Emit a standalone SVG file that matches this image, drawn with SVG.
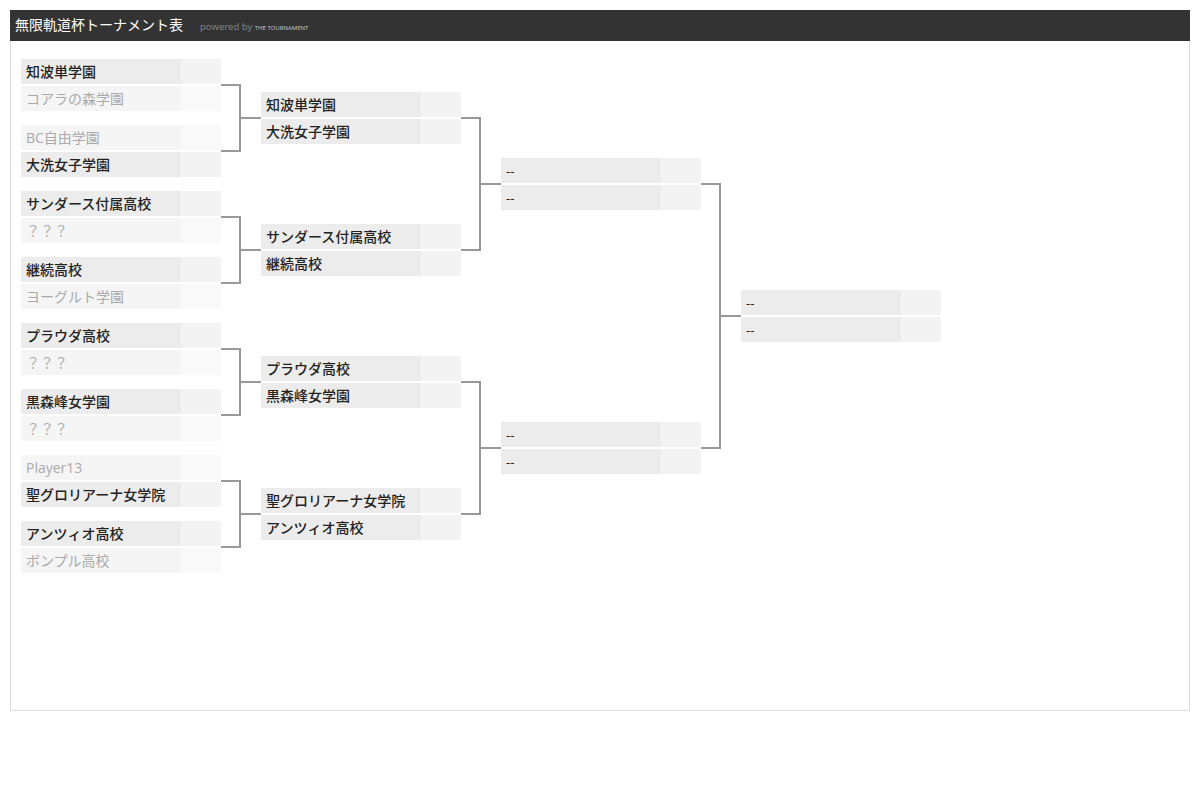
<svg xmlns="http://www.w3.org/2000/svg" width="1200" height="800" viewBox="0 0 1200 800">
<style>
text{font-family:"Open Sans","Noto Sans CJK JP","Noto Sans",sans-serif;}
.n{font-size:14px;fill:#222;font-weight:500;}
.l{font-size:14px;fill:#aaa;}
.d{font-size:13px;fill:#222;font-weight:500;}
.wn{fill:#ececec;}
.ws{fill:#f3f3f3;}
.ln{fill:#f5f5f5;}
.ls{fill:#f9f9f9;}
.c{fill:none;stroke:#999;stroke-width:2;}
</style>
<rect x="0" y="0" width="1200" height="800" fill="#fff"/>
<rect x="10.5" y="40.5" width="1179" height="670" fill="#fff" stroke="#ddd" stroke-width="1"/>
<g id="header">
<rect x="10" y="10" width="1180" height="31" fill="#333"/>
<text x="15" y="30" style="font-size:14px;fill:#fff">無限軌道杯トーナメント表</text>
<text x="200" y="30" style="font-size:9.5px;fill:#888">powered by <tspan style="font-size:6px;fill:#ccc">THE TOURNAMENT</tspan></text>
</g>
<g id="connectors">
<path class="c" d="M221 85H240V151H221M240 118H261"/>
<path class="c" d="M221 217H240V283H221M240 250H261"/>
<path class="c" d="M221 349H240V415H221M240 382H261"/>
<path class="c" d="M221 481H240V547H221M240 514H261"/>
<path class="c" d="M461 118H480V250H461M480 184H501"/>
<path class="c" d="M461 382H480V514H461M480 448H501"/>
<path class="c" d="M701 184H720V448H701M720 316H741"/>
</g>
<g id="r1m1">
<rect class="wn" x="21" y="59" width="160" height="25"/><rect class="ws" x="181" y="59" width="40" height="25"/>
<text class="n" x="26" y="77">知波単学園</text>
<rect class="ln" x="21" y="86" width="160" height="25"/><rect class="ls" x="181" y="86" width="40" height="25"/>
<text class="l" x="26" y="104">コアラの森学園</text>
</g>
<g id="r1m2">
<rect class="ln" x="21" y="125" width="160" height="25"/><rect class="ls" x="181" y="125" width="40" height="25"/>
<text class="l" x="26" y="143">BC自由学園</text>
<rect class="wn" x="21" y="152" width="160" height="25"/><rect class="ws" x="181" y="152" width="40" height="25"/>
<text class="n" x="26" y="170">大洗女子学園</text>
</g>
<g id="r1m3">
<rect class="wn" x="21" y="191" width="160" height="25"/><rect class="ws" x="181" y="191" width="40" height="25"/>
<text class="n" x="26" y="209">サンダース付属高校</text>
<rect class="ln" x="21" y="218" width="160" height="25"/><rect class="ls" x="181" y="218" width="40" height="25"/>
<text class="l" x="26" y="236">？？？</text>
</g>
<g id="r1m4">
<rect class="wn" x="21" y="257" width="160" height="25"/><rect class="ws" x="181" y="257" width="40" height="25"/>
<text class="n" x="26" y="275">継続高校</text>
<rect class="ln" x="21" y="284" width="160" height="25"/><rect class="ls" x="181" y="284" width="40" height="25"/>
<text class="l" x="26" y="302">ヨーグルト学園</text>
</g>
<g id="r1m5">
<rect class="wn" x="21" y="323" width="160" height="25"/><rect class="ws" x="181" y="323" width="40" height="25"/>
<text class="n" x="26" y="341">プラウダ高校</text>
<rect class="ln" x="21" y="350" width="160" height="25"/><rect class="ls" x="181" y="350" width="40" height="25"/>
<text class="l" x="26" y="368">？？？</text>
</g>
<g id="r1m6">
<rect class="wn" x="21" y="389" width="160" height="25"/><rect class="ws" x="181" y="389" width="40" height="25"/>
<text class="n" x="26" y="407">黒森峰女学園</text>
<rect class="ln" x="21" y="416" width="160" height="25"/><rect class="ls" x="181" y="416" width="40" height="25"/>
<text class="l" x="26" y="434">？？？</text>
</g>
<g id="r1m7">
<rect class="ln" x="21" y="455" width="160" height="25"/><rect class="ls" x="181" y="455" width="40" height="25"/>
<text class="l" x="26" y="473">Player13</text>
<rect class="wn" x="21" y="482" width="160" height="25"/><rect class="ws" x="181" y="482" width="40" height="25"/>
<text class="n" x="26" y="500">聖グロリアーナ女学院</text>
</g>
<g id="r1m8">
<rect class="wn" x="21" y="521" width="160" height="25"/><rect class="ws" x="181" y="521" width="40" height="25"/>
<text class="n" x="26" y="539">アンツィオ高校</text>
<rect class="ln" x="21" y="548" width="160" height="25"/><rect class="ls" x="181" y="548" width="40" height="25"/>
<text class="l" x="26" y="566">ボンプル高校</text>
</g>
<g id="r2m1">
<rect class="wn" x="261" y="92" width="160" height="25"/><rect class="ws" x="421" y="92" width="40" height="25"/>
<text class="n" x="266" y="110">知波単学園</text>
<rect class="wn" x="261" y="119" width="160" height="25"/><rect class="ws" x="421" y="119" width="40" height="25"/>
<text class="n" x="266" y="137">大洗女子学園</text>
</g>
<g id="r2m2">
<rect class="wn" x="261" y="224" width="160" height="25"/><rect class="ws" x="421" y="224" width="40" height="25"/>
<text class="n" x="266" y="242">サンダース付属高校</text>
<rect class="wn" x="261" y="251" width="160" height="25"/><rect class="ws" x="421" y="251" width="40" height="25"/>
<text class="n" x="266" y="269">継続高校</text>
</g>
<g id="r2m3">
<rect class="wn" x="261" y="356" width="160" height="25"/><rect class="ws" x="421" y="356" width="40" height="25"/>
<text class="n" x="266" y="374">プラウダ高校</text>
<rect class="wn" x="261" y="383" width="160" height="25"/><rect class="ws" x="421" y="383" width="40" height="25"/>
<text class="n" x="266" y="401">黒森峰女学園</text>
</g>
<g id="r2m4">
<rect class="wn" x="261" y="488" width="160" height="25"/><rect class="ws" x="421" y="488" width="40" height="25"/>
<text class="n" x="266" y="506">聖グロリアーナ女学院</text>
<rect class="wn" x="261" y="515" width="160" height="25"/><rect class="ws" x="421" y="515" width="40" height="25"/>
<text class="n" x="266" y="533">アンツィオ高校</text>
</g>
<g id="r3m1">
<rect class="wn" x="501" y="158" width="160" height="25"/><rect class="ws" x="661" y="158" width="40" height="25"/>
<text class="d" x="506" y="176">--</text>
<rect class="wn" x="501" y="185" width="160" height="25"/><rect class="ws" x="661" y="185" width="40" height="25"/>
<text class="d" x="506" y="203">--</text>
</g>
<g id="r3m2">
<rect class="wn" x="501" y="422" width="160" height="25"/><rect class="ws" x="661" y="422" width="40" height="25"/>
<text class="d" x="506" y="440">--</text>
<rect class="wn" x="501" y="449" width="160" height="25"/><rect class="ws" x="661" y="449" width="40" height="25"/>
<text class="d" x="506" y="467">--</text>
</g>
<g id="final">
<rect class="wn" x="741" y="290" width="160" height="25"/><rect class="ws" x="901" y="290" width="40" height="25"/>
<text class="d" x="746" y="308">--</text>
<rect class="wn" x="741" y="317" width="160" height="25"/><rect class="ws" x="901" y="317" width="40" height="25"/>
<text class="d" x="746" y="335">--</text>
</g>
</svg>
